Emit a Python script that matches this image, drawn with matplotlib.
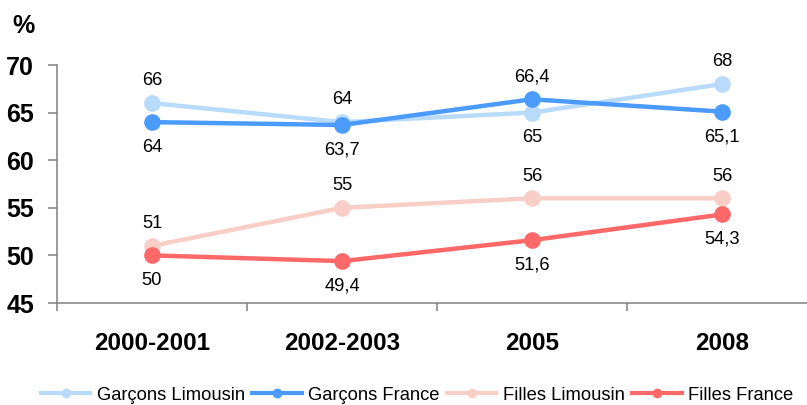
import matplotlib
matplotlib.use("Agg")
import matplotlib.pyplot as plt
from matplotlib.lines import Line2D

plt.rcParams['font.family'] = ['Liberation Sans', 'DejaVu Sans']

categories = ["2000-2001", "2002-2003", "2005", "2008"]
garcons_limousin = [66, 64, 65, 68]
garcons_france = [64, 63.7, 66.4, 65.1]
filles_limousin = [51, 55, 56, 56]
filles_france = [50, 49.4, 51.6, 54.3]
yticks = [45, 50, 55, 60, 65, 70]

series = [
    ("Garçons Limousin", garcons_limousin, "#B9DBFB", ["up", "up", "down", "up"]),
    ("Garçons France", garcons_france, "#4B9BFC", ["down", "down", "up", "down"]),
    ("Filles Limousin", filles_limousin, "#F9CEC7", ["up", "up", "up", "up"]),
    ("Filles France", filles_france, "#FF6868", ["down", "down", "down", "down"]),
]

def fmt(v):
    s = ("%g" % v)
    return s.replace(".", ",")

fig = plt.figure(figsize=(8.07, 4.05), dpi=100)
ax = fig.add_axes([57 / 807, 102 / 405, 760 / 807, 238 / 405])

x = list(range(len(categories)))
handles = []
for name, vals, color, pos in series:
    ax.plot(x, vals, color=color, lw=3.2, marker="o", markersize=12,
            markeredgewidth=0, solid_capstyle="round", clip_on=False, zorder=3)
    for xi, v, p in zip(x, vals, pos):
        off = 16 if p == "up" else -18
        ax.annotate(fmt(v), (xi, v), xytext=(0, off), textcoords="offset points",
                    ha="center", va="center", fontsize=13.2, color="black")
    handles.append(Line2D([0], [0], color=color, lw=3, marker="o", markersize=7,
                          markeredgewidth=0))

ax.set_xlim(-0.5, 3.5)
ax.set_ylim(45, 70)
ax.set_yticks(yticks)
ax.set_yticklabels([str(t) for t in yticks], fontsize=18, fontweight="bold")
ax.set_xticks(x)
ax.set_xticklabels(categories, fontsize=17.5, fontweight="bold")
ax.set_xticks([-0.5, 0.5, 1.5, 2.5], minor=True)
ax.tick_params(axis="x", which="major", length=0, pad=21)
ax.tick_params(axis="x", which="minor", length=6, width=1.1, color="#808080", direction="out")
ax.tick_params(axis="y", length=6.5, width=1.1, color="#808080", pad=10, direction="out")

for s in ["top", "right"]:
    ax.spines[s].set_visible(False)
for s in ["left", "bottom"]:
    ax.spines[s].set_color("#808080")
    ax.spines[s].set_linewidth(1.1)

fig.text(35 / 807, 1 - 26 / 405, "%", fontsize=18, fontweight="bold",
         ha="right", va="center")

fig.legend(handles, [s[0] for s in series], loc="center", ncol=4,
           bbox_to_anchor=(417 / 807, 1 - 395 / 405), frameon=False,
           fontsize=13.2, handlelength=2.7, handletextpad=0.35, columnspacing=0.4,
           borderaxespad=0, borderpad=0)

fig.savefig("out.png", dpi=100)
